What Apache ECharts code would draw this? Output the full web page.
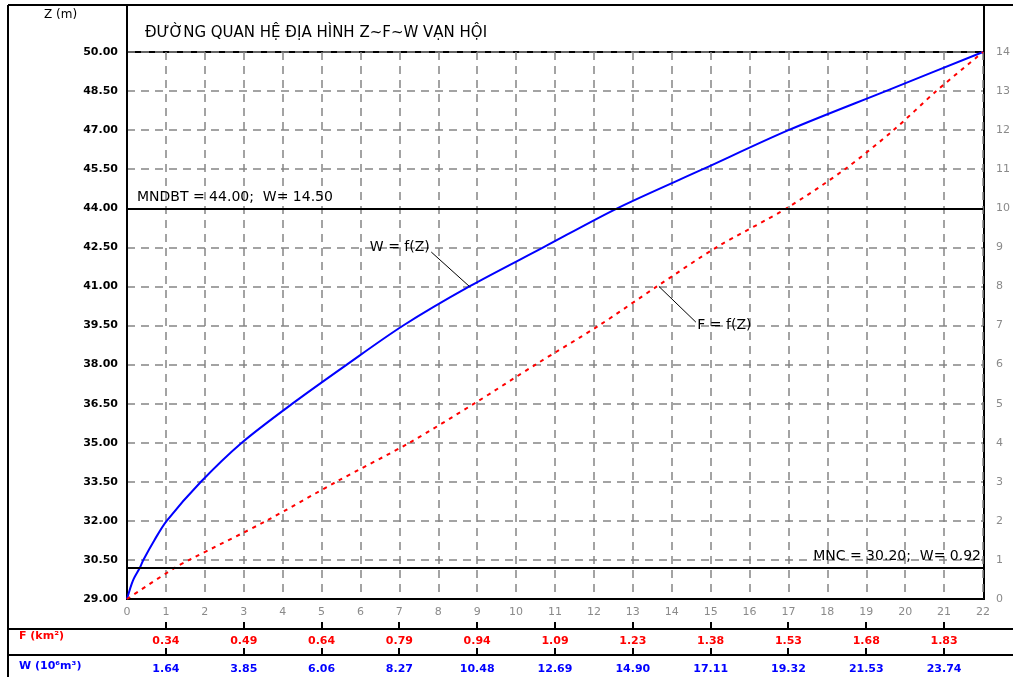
<!DOCTYPE html>
<html>
<head>
<meta charset="utf-8">
<title>Z~F~W Van Hoi</title>
<style>
  html, body { margin: 0; padding: 0; background: #fff; }
  #chart { width: 1013px; height: 677px; }
</style>
</head>
<body>
<div id="chart"></div>
<script src="https://cdn.jsdelivr.net/npm/echarts@6/dist/echarts.min.js"></script>
<script>
// duong W = f(Z): toa do ngang (thang 0..22) va muc nuoc Z (m)
var zW = [29, 29.7, 30.2, 30.5, 31.25, 32, 33.5, 35, 36.5, 38, 39.5, 41, 42.5, 44, 45.5, 47, 48.5, 50];
var xW = [0, 0.15, 0.33, 0.42, 0.7, 1.02, 1.9, 2.95, 4.25, 5.65, 7.1, 8.8, 10.7, 12.6, 14.8, 17.0, 19.5, 22];

// duong F = f(Z)
var zF = [29, 30.2, 30.5, 32, 33.5, 35, 36.5, 38, 39.5, 41, 42.5, 44, 45.5, 47, 48.5, 50];
var xF = [0, 1.23, 1.6, 3.58, 5.38, 7.26, 8.92, 10.5, 12.13, 13.62, 15.15, 16.95, 18.45, 19.7, 20.8, 22];

// nhan truc; hang F, W nam tai cac vach 1, 3, ..., 21
var zTicks = [29, 30.5, 32, 33.5, 35, 36.5, 38, 39.5, 41, 42.5, 44, 45.5, 47, 48.5, 50];
var rowPos = [1, 3, 5, 7, 9, 11, 13, 15, 17, 19, 21];
var fRow = ['0.34', '0.49', '0.64', '0.79', '0.94', '1.09', '1.23', '1.38', '1.53', '1.68', '1.83'];
var wRow = ['1.64', '3.85', '6.06', '8.27', '10.48', '12.69', '14.90', '17.11', '19.32', '21.53', '23.74'];

// muc nuoc dac trung
var mndbt = 44.00, wMndbt = 14.50;
var mnc = 30.20, wMnc = 0.92;

var FONT = 'DejaVu Sans';
var chart = echarts.init(document.getElementById('chart'));

function pairs(xs, zs) {
  return xs.map(function (x, i) { return [x, zs[i]]; });
}

var gridDash = { color: '#858585', width: 1.5, type: [8, 6] };
var black2 = { color: '#000', width: 2 };
var noteText = { color: '#000', fontFamily: FONT, fontSize: 14 };

// truc phu duoi bieu do cho hang F / W
function rowAxis(offset, vals, color, margin) {
  return {
    gridIndex: 0, type: 'value', min: 0, max: 22,
    position: 'bottom', offset: offset,
    axisLine: { show: true, onZero: false, lineStyle: black2 },
    axisTick: { show: false },
    axisLabel: {
      customValues: rowPos, margin: margin,
      color: color, fontFamily: FONT, fontSize: 11, fontWeight: 'bold',
      formatter: function (v) { return vals[rowPos.indexOf(v)]; }
    },
    splitLine: { show: false }
  };
}

function hline(id, x1, y, x2) {
  return { id: id, type: 'line', shape: { x1: x1, y1: y, x2: x2, y2: y }, style: { stroke: '#000', lineWidth: 2 }, silent: true };
}
function vline(id, x, y1, y2) {
  return { id: id, type: 'line', shape: { x1: x, y1: y1, x2: x, y2: y2 }, style: { stroke: '#000', lineWidth: 2 }, silent: true };
}

var option = {
  backgroundColor: '#fff',
  animation: false,
  title: {
    text: 'ĐƯỜNG QUAN HỆ ĐỊA HÌNH Z~F~W VẠN HỘI',
    left: 140, top: 21,
    textStyle: { fontFamily: FONT, fontSize: 15, fontWeight: 'normal', color: '#000' }
  },
  grid: { left: 127, right: 29, top: 52, height: 547 },
  xAxis: [
    {
      type: 'value', min: 0, max: 22, interval: 1,
      axisLine: { onZero: false, lineStyle: black2 },
      axisTick: { show: false },
      axisLabel: { color: '#8a8a8a', fontFamily: FONT, fontSize: 11, margin: 8 },
      splitLine: { show: true, lineStyle: gridDash }
    },
    rowAxis(30, fRow, '#ff0000', 7),
    rowAxis(56, wRow, '#0000ff', 9)
  ],
  yAxis: [
    {
      type: 'value', min: 29, max: 50, position: 'left',
      axisLine: { show: true, lineStyle: black2 },
      axisTick: { show: false },
      splitLine: { show: false },
      axisLabel: {
        customValues: zTicks, margin: 9,
        color: '#000', fontFamily: FONT, fontSize: 11, fontWeight: 'bold',
        formatter: function (v) { return v.toFixed(2); }
      }
    },
    {
      type: 'value', min: 0, max: 14, interval: 1, position: 'right',
      axisLine: { show: true, lineStyle: black2 },
      axisTick: { show: false },
      splitLine: { show: true, lineStyle: gridDash },
      axisLabel: { color: '#8a8a8a', fontFamily: FONT, fontSize: 11, margin: 13 }
    }
  ],
  series: [
    {
      name: 'W = f(Z)',
      type: 'line',
      xAxisIndex: 0, yAxisIndex: 0,
      data: pairs(xW, zW),
      symbol: 'none',
      smooth: 0.3,
      z: 4,
      lineStyle: { color: '#0000ff', width: 2 },
      markLine: {
        silent: true, symbol: ['none', 'none'],
        lineStyle: { color: '#000', type: 'solid', width: 2 },
        data: [
          {
            yAxis: mndbt,
            label: Object.assign({
              show: true, position: 'insideStartTop', distance: [10, 4],
              formatter: 'MNDBT = ' + mndbt.toFixed(2) + ';  W= ' + wMndbt.toFixed(2)
            }, noteText)
          },
          {
            yAxis: mnc,
            label: Object.assign({
              show: true, position: 'insideEndTop', distance: [2, 4],
              formatter: 'MNC = ' + mnc.toFixed(2) + ';  W= ' + wMnc.toFixed(2)
            }, noteText)
          },
          [
            { coord: [7.82, 42.32], lineStyle: { width: 1 }, label: { show: false } },
            { coord: [8.8, 41] }
          ]
        ]
      },
      markPoint: {
        silent: true, symbol: 'circle', symbolSize: 1,
        itemStyle: { color: 'rgba(0,0,0,0)' },
        data: [{
          coord: [7.82, 42.5],
          label: Object.assign({
            show: true, position: 'left', distance: 1, formatter: 'W = f(Z)'
          }, noteText)
        }]
      }
    },
    {
      name: 'F = f(Z)',
      type: 'line',
      xAxisIndex: 0, yAxisIndex: 0,
      data: pairs(xF, zF),
      symbol: 'none',
      smooth: 0.3,
      z: 4,
      lineStyle: { color: '#ff0000', width: 2, type: [4, 5] },
      markLine: {
        silent: true, symbol: ['none', 'none'],
        lineStyle: { color: '#000', type: 'solid', width: 1 },
        label: { show: false },
        data: [
          [{ coord: [13.67, 41] }, { coord: [14.62, 39.63] }]
        ]
      },
      markPoint: {
        silent: true, symbol: 'circle', symbolSize: 1,
        itemStyle: { color: 'rgba(0,0,0,0)' },
        data: [{
          coord: [14.62, 39.52],
          label: Object.assign({
            show: true, position: 'right', distance: 1, formatter: 'F = f(Z)'
          }, noteText)
        }]
      }
    }
  ],
  graphic: [
    hline('top', 8, 5, 1013),
    vline('left', 8, 5, 677),
    vline('yl', 127, 5, 600),
    vline('yr', 984, 5, 600),
    hline('z50', 127, 52, 984),
    hline('rowF', 8, 629, 1013),
    hline('rowW', 8, 655, 1013),
    {
      id: 'zlab', type: 'text', left: 44, top: 9, silent: true,
      style: { text: 'Z (m)', fill: '#000', font: '12px "DejaVu Sans"' }
    },
    {
      id: 'flab', type: 'text', left: 19, top: 631, silent: true,
      style: { text: 'F (km²)', fill: '#ff0000', font: 'bold 11px "DejaVu Sans"' }
    },
    {
      id: 'wlab', type: 'text', left: 19, top: 661, silent: true,
      style: { text: 'W (10⁶m³)', fill: '#0000ff', font: 'bold 11px "DejaVu Sans"' }
    }
  ]
};

chart.setOption(option);

// vach nho huong len tren hai duong ke hang F, W, dat theo thang truc x
var ticks = [];
rowPos.forEach(function (p) {
  var px = Math.round(chart.convertToPixel({ xAxisIndex: 0 }, p));
  ticks.push(vline('tf' + p, px, 622, 629));
  ticks.push(vline('tw' + p, px, 648, 655));
});
chart.setOption({ graphic: ticks });
</script>
</body>
</html>
